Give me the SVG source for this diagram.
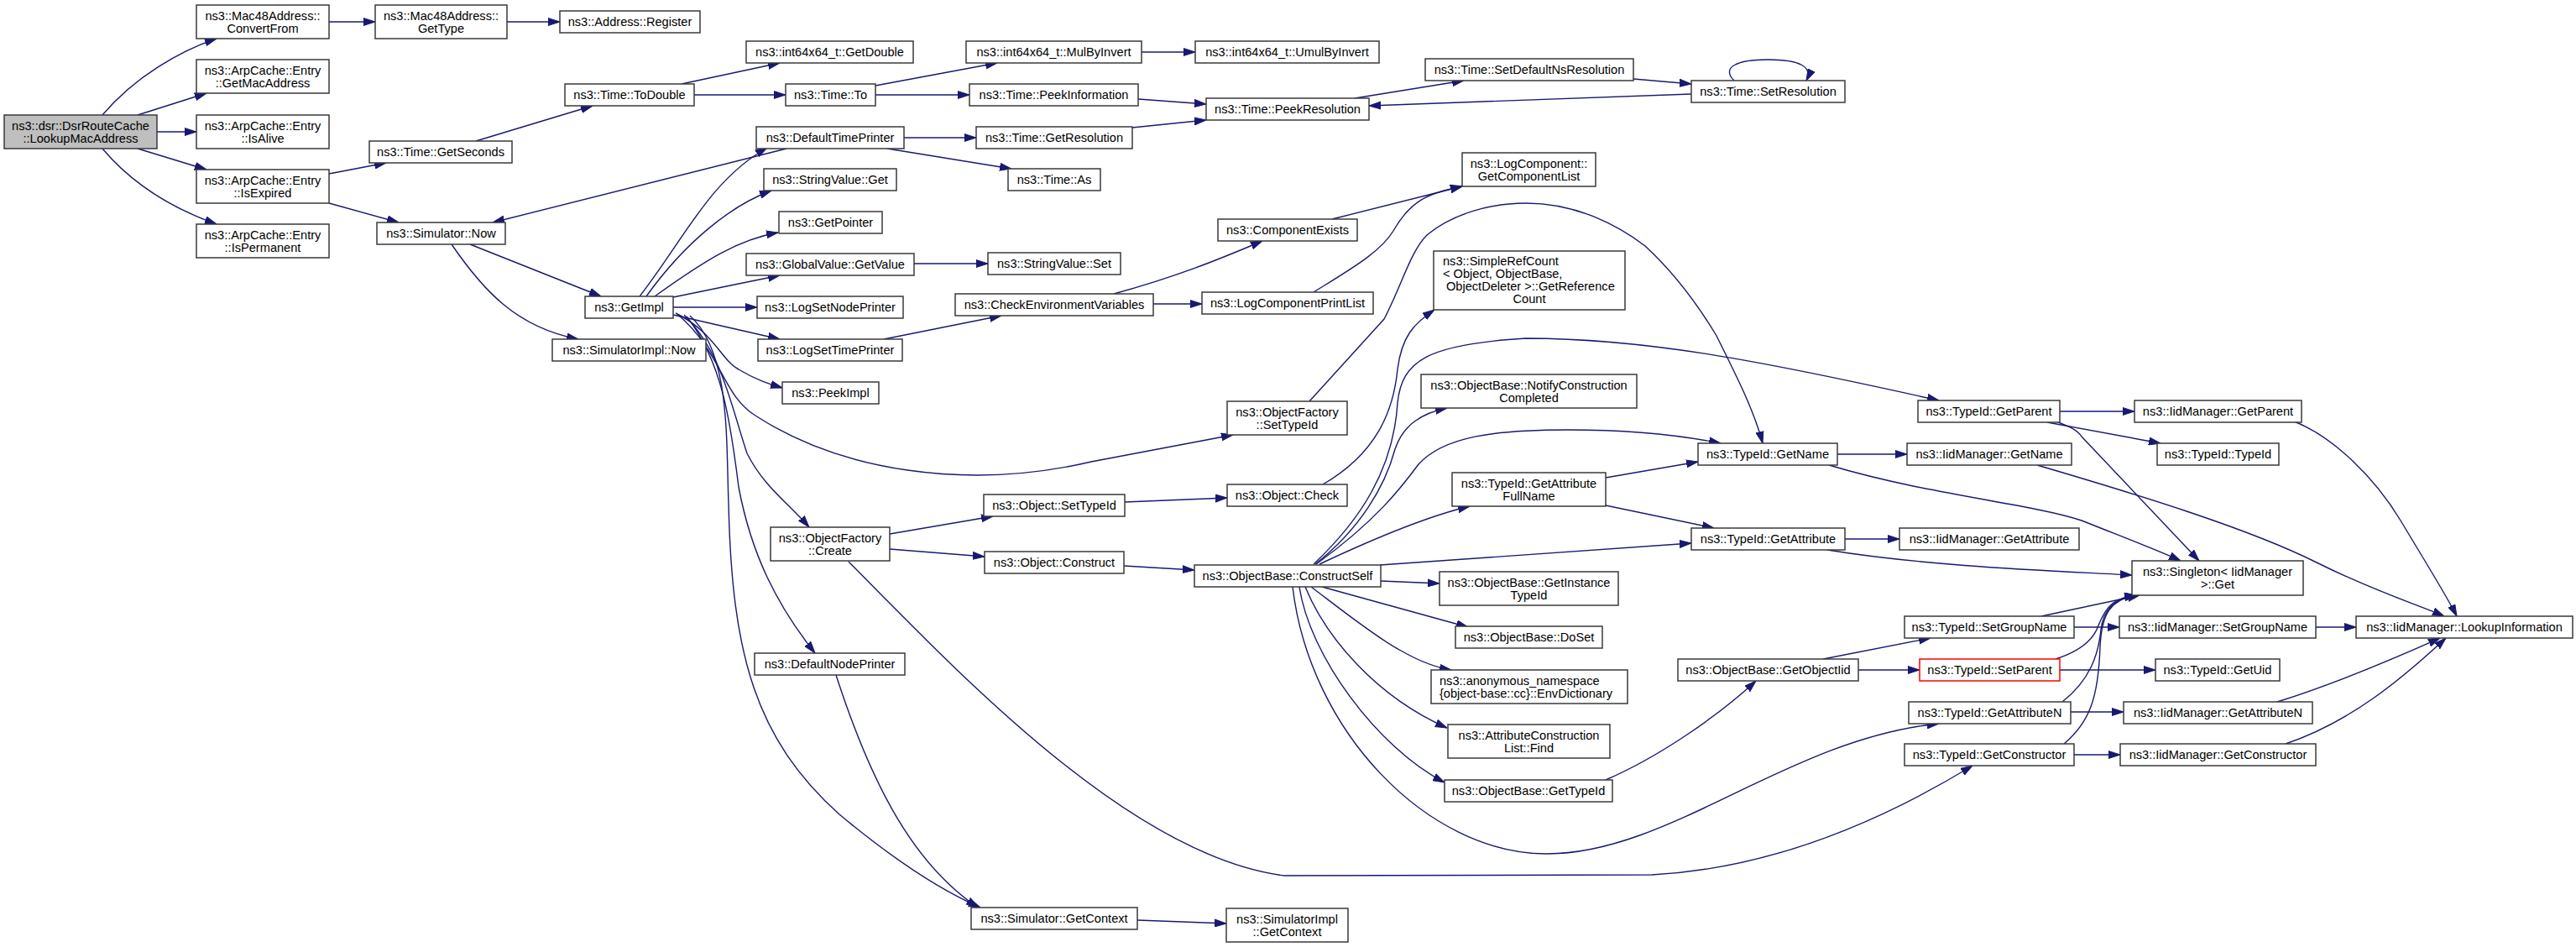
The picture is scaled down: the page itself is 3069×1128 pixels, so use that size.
<svg xmlns="http://www.w3.org/2000/svg" width="3069" height="1128" viewBox="0 0 3069 1128">
<style>
.node rect{fill:#ffffff;stroke:#3a3a3a;stroke-width:1.5}
.node text{font-family:"Liberation Sans",Arial,sans-serif;font-size:14.6px;fill:#000000;text-anchor:middle}
.node text.l{text-anchor:start}
#n_dsr rect{fill:#bfbfbf}
#n_setparent rect{stroke:#ff0000}
.edges path{fill:none;stroke:#191970;stroke-width:1.4;marker-end:url(#a)}
</style>
<defs>
<marker id="a" markerUnits="userSpaceOnUse" markerWidth="14" markerHeight="10" refX="14" refY="5" orient="auto" viewBox="0 0 14 10"><path d="M0,0.5 L14,5 L0,9.5 z" fill="#191970" stroke="#191970" stroke-width="1"/></marker>
</defs>
<rect x="0" y="0" width="3069" height="1128" fill="#ffffff"/>
<g class="edges">
<path d="M122,137 C160,92 215,60 258,46"/>
<path d="M164,137 L246,111"/>
<path d="M187,157 L234,157"/>
<path d="M164,177 L246,202"/>
<path d="M122,177 C160,222 210,250 258,267"/>
<path d="M392,26 L447,26"/>
<path d="M604,26 L667,26"/>
<path d="M392,207 L460,194"/>
<path d="M392,242 L475,265"/>
<path d="M567,168 L706,126"/>
<path d="M812,100 L929,75"/>
<path d="M827,113 L936,113"/>
<path d="M1043,102 L1188,75"/>
<path d="M1043,113 L1155,113"/>
<path d="M1360,62 L1424,62"/>
<path d="M1356,118 L1437,124"/>
<path d="M1349,152 L1437,143"/>
<path d="M1077,164 L1163,164"/>
<path d="M1057,177 L1205,201"/>
<path d="M937,177 L587,265"/>
<path d="M1614,117 L1744,96"/>
<path d="M1946,94 L2015,100"/>
<path d="M2015,112 L1631,126"/>
<path d="M2066,96 C2050,80 2070,71 2106,71 C2145,71 2160,80 2152,96"/>
<path d="M560,291 L716,353"/>
<path d="M538,291 C575,345 615,390 689,404"/>
<path d="M762,353 C815,285 845,215 914,176"/>
<path d="M770,353 C815,290 870,245 919,227"/>
<path d="M780,353 C840,310 880,285 927,277"/>
<path d="M802,354 L929,328"/>
<path d="M1089,314 L1177,314"/>
<path d="M802,366 L902,366"/>
<path d="M802,375 L929,404"/>
<path d="M1053,404 L1193,376"/>
<path d="M1327,350 C1400,330 1450,310 1504,287"/>
<path d="M1374,362 L1432,362"/>
<path d="M1587,261 L1742,222"/>
<path d="M1565,348 C1610,320 1645,300 1660,275 C1680,240 1700,230 1742,222"/>
<path d="M805,373 C850,395 860,430 880,440 C900,452 915,457 932,462"/>
<path d="M808,375 C860,420 860,470 900,495 C1000,560 1150,585 1300,550 C1380,535 1430,525 1469,518"/>
<path d="M815,375 C860,420 870,480 890,540 C910,580 940,600 964,628"/>
<path d="M818,377 C860,430 870,500 880,580 C895,660 925,720 971,778"/>
<path d="M822,376 C870,420 865,520 868,600 C872,780 900,880 1000,970 C1060,1020 1120,1060 1168,1081"/>
<path d="M996,804 C1040,940 1090,1030 1165,1081"/>
<path d="M1355,1096 L1461,1100"/>
<path d="M1060,636 L1183,615"/>
<path d="M1060,654 L1173,663"/>
<path d="M1011,669 C1150,810 1350,1020 1530,1043 L1968,1042 C2100,1035 2230,985 2350,912"/>
<path d="M1340,598 L1462,593"/>
<path d="M1339,674 L1423,679"/>
<path d="M1560,478 L1649,380 C1670,340 1680,300 1700,280 C1730,255 1775,242 1818,242 C1880,242 1930,270 1960,293 C2000,330 2030,375 2045,400 C2070,450 2090,490 2100,528"/>
<path d="M1576,577 C1640,540 1660,490 1665,440 C1670,400 1685,385 1709,369"/>
<path d="M1565,672 C1620,620 1660,560 1665,480 C1670,430 1700,410 1818,403 C1960,403 2100,430 2310,477"/>
<path d="M1567,672 C1620,630 1650,580 1662,535 C1672,505 1695,492 1724,486"/>
<path d="M1568,672 C1640,620 1670,580 1690,553 C1720,520 1780,512 1868,512 C1950,512 2010,520 2050,528"/>
<path d="M1572,672 C1640,640 1700,615 1751,603"/>
<path d="M1644,673 L2015,647"/>
<path d="M1645,692 L1715,695"/>
<path d="M1575,699 L1749,747"/>
<path d="M1562,699 C1590,720 1640,760 1669,775 C1690,787 1710,795 1729,798"/>
<path d="M1555,699 C1580,760 1640,830 1724,867"/>
<path d="M1548,699 C1560,780 1640,890 1721,932"/>
<path d="M1540,699 C1560,870 1700,1017 1843,1017 C1990,1017 2130,880 2310,862"/>
<path d="M1913,569 L2023,550"/>
<path d="M1913,602 L2042,629"/>
<path d="M2189,541 L2272,541"/>
<path d="M2179,554 C2300,590 2420,600 2480,620 C2530,640 2570,655 2598,668"/>
<path d="M2198,642 L2263,642"/>
<path d="M2177,655 C2300,675 2450,680 2540,685"/>
<path d="M2454,490 L2543,490"/>
<path d="M2439,503 L2574,528"/>
<path d="M2452,503 C2465,508 2475,512 2480,520 L2620,668"/>
<path d="M2733,502 C2780,520 2830,570 2860,620 C2890,670 2915,710 2927,734"/>
<path d="M2427,554 C2550,590 2680,630 2760,670 C2830,705 2880,720 2912,734"/>
<path d="M2432,734 L2549,709"/>
<path d="M2471,747 L2525,747"/>
<path d="M2759,747 L2807,747"/>
<path d="M2449,785 C2480,775 2495,760 2500,745 C2510,720 2520,712 2545,709"/>
<path d="M2454,798 L2568,798"/>
<path d="M2457,836 C2490,810 2500,780 2503,750 C2506,725 2520,712 2545,709"/>
<path d="M2467,848 L2530,848"/>
<path d="M2713,836 C2780,815 2840,790 2907,760"/>
<path d="M2459,886 C2490,860 2500,830 2502,770 C2504,730 2515,714 2545,709"/>
<path d="M2471,899 L2526,899"/>
<path d="M2723,886 C2800,860 2860,810 2914,760"/>
<path d="M2172,785 L2300,760"/>
<path d="M2214,798 L2287,798"/>
<path d="M1913,929 C1980,900 2050,850 2092,811"/>
</g>
<g id="n_dsr" class="node"><rect x="5" y="137" width="182" height="40"/><text x="96" y="155">ns3::dsr::DsrRouteCache</text><text x="96" y="169.5">::LookupMacAddress</text></g>
<g id="n_conv" class="node"><rect x="234" y="6" width="158" height="40"/><text x="313" y="24">ns3::Mac48Address::</text><text x="313" y="38.5">ConvertFrom</text></g>
<g id="n_getmac" class="node"><rect x="234" y="71" width="158" height="40"/><text x="313" y="89">ns3::ArpCache::Entry</text><text x="313" y="103.5">::GetMacAddress</text></g>
<g id="n_alive" class="node"><rect x="234" y="137" width="158" height="40"/><text x="313" y="155">ns3::ArpCache::Entry</text><text x="313" y="169.5">::IsAlive</text></g>
<g id="n_expired" class="node"><rect x="234" y="202" width="158" height="40"/><text x="313" y="220">ns3::ArpCache::Entry</text><text x="313" y="234.5">::IsExpired</text></g>
<g id="n_perm" class="node"><rect x="234" y="267" width="158" height="40"/><text x="313" y="285">ns3::ArpCache::Entry</text><text x="313" y="299.5">::IsPermanent</text></g>
<g id="n_gettype" class="node"><rect x="447" y="6" width="157" height="40"/><text x="525.5" y="24">ns3::Mac48Address::</text><text x="525.5" y="38.5">GetType</text></g>
<g id="n_getseconds" class="node"><rect x="440" y="168" width="170" height="26"/><text x="525" y="186">ns3::Time::GetSeconds</text></g>
<g id="n_simnow" class="node"><rect x="449" y="265" width="153" height="26"/><text x="525.5" y="283">ns3::Simulator::Now</text></g>
<g id="n_register" class="node"><rect x="667" y="13" width="167" height="26"/><text x="750.5" y="31">ns3::Address::Register</text></g>
<g id="n_todouble" class="node"><rect x="673" y="100" width="154" height="26"/><text x="750" y="118">ns3::Time::ToDouble</text></g>
<g id="n_getimpl" class="node"><rect x="697" y="353" width="105" height="26"/><text x="749.5" y="371">ns3::GetImpl</text></g>
<g id="n_simimplnow" class="node"><rect x="658" y="404" width="183" height="26"/><text x="749.5" y="422">ns3::SimulatorImpl::Now</text></g>
<g id="n_getdouble" class="node"><rect x="889" y="49" width="199" height="26"/><text x="988.5" y="67">ns3::int64x64_t::GetDouble</text></g>
<g id="n_timeto" class="node"><rect x="936" y="100" width="107" height="26"/><text x="989.5" y="118">ns3::Time::To</text></g>
<g id="n_dtp" class="node"><rect x="901" y="151" width="176" height="26"/><text x="989" y="169">ns3::DefaultTimePrinter</text></g>
<g id="n_svget" class="node"><rect x="910" y="201" width="158" height="26"/><text x="989" y="219">ns3::StringValue::Get</text></g>
<g id="n_getptr" class="node"><rect x="928" y="252" width="123" height="26"/><text x="989.5" y="270">ns3::GetPointer</text></g>
<g id="n_gvget" class="node"><rect x="889" y="302" width="200" height="26"/><text x="989" y="320">ns3::GlobalValue::GetValue</text></g>
<g id="n_lsnp" class="node"><rect x="902" y="353" width="174" height="26"/><text x="989" y="371">ns3::LogSetNodePrinter</text></g>
<g id="n_lstp" class="node"><rect x="903" y="404" width="172" height="26"/><text x="989" y="422">ns3::LogSetTimePrinter</text></g>
<g id="n_peekimpl" class="node"><rect x="932" y="455" width="115" height="26"/><text x="989.5" y="473">ns3::PeekImpl</text></g>
<g id="n_ofcreate" class="node"><rect x="918" y="628" width="142" height="40"/><text x="989" y="646">ns3::ObjectFactory</text><text x="989" y="660.5">::Create</text></g>
<g id="n_dnp" class="node"><rect x="899" y="778" width="179" height="26"/><text x="988.5" y="796">ns3::DefaultNodePrinter</text></g>
<g id="n_mulbyinv" class="node"><rect x="1151" y="49" width="209" height="26"/><text x="1255.5" y="67">ns3::int64x64_t::MulByInvert</text></g>
<g id="n_peekinfo" class="node"><rect x="1155" y="100" width="201" height="26"/><text x="1255.5" y="118">ns3::Time::PeekInformation</text></g>
<g id="n_getres" class="node"><rect x="1163" y="151" width="186" height="26"/><text x="1256" y="169">ns3::Time::GetResolution</text></g>
<g id="n_timeas" class="node"><rect x="1201" y="201" width="110" height="26"/><text x="1256" y="219">ns3::Time::As</text></g>
<g id="n_svset" class="node"><rect x="1177" y="301" width="158" height="26"/><text x="1256" y="319">ns3::StringValue::Set</text></g>
<g id="n_checkenv" class="node"><rect x="1138" y="350" width="236" height="26"/><text x="1256" y="368">ns3::CheckEnvironmentVariables</text></g>
<g id="n_objsettid" class="node"><rect x="1172" y="589" width="168" height="26"/><text x="1256" y="607">ns3::Object::SetTypeId</text></g>
<g id="n_objconstruct" class="node"><rect x="1173" y="657" width="166" height="26"/><text x="1256" y="675">ns3::Object::Construct</text></g>
<g id="n_simctx" class="node"><rect x="1157" y="1081" width="198" height="26"/><text x="1256" y="1099">ns3::Simulator::GetContext</text></g>
<g id="n_umul" class="node"><rect x="1424" y="49" width="219" height="26"/><text x="1533.5" y="67">ns3::int64x64_t::UmulByInvert</text></g>
<g id="n_peekres" class="node"><rect x="1437" y="117" width="194" height="26"/><text x="1534" y="135">ns3::Time::PeekResolution</text></g>
<g id="n_compexists" class="node"><rect x="1451" y="261" width="166" height="26"/><text x="1534" y="279">ns3::ComponentExists</text></g>
<g id="n_lcpl" class="node"><rect x="1432" y="348" width="204" height="26"/><text x="1534" y="366">ns3::LogComponentPrintList</text></g>
<g id="n_ofsettid" class="node"><rect x="1462" y="478" width="143" height="40"/><text x="1533.5" y="496">ns3::ObjectFactory</text><text x="1533.5" y="510.5">::SetTypeId</text></g>
<g id="n_objcheck" class="node"><rect x="1462" y="577" width="143" height="26"/><text x="1533.5" y="595">ns3::Object::Check</text></g>
<g id="n_constructself" class="node"><rect x="1423" y="673" width="222" height="26"/><text x="1534" y="691">ns3::ObjectBase::ConstructSelf</text></g>
<g id="n_simimplctx" class="node"><rect x="1461" y="1082" width="145" height="40"/><text x="1533.5" y="1100">ns3::SimulatorImpl</text><text x="1533.5" y="1114.5">::GetContext</text></g>
<g id="n_setdefns" class="node"><rect x="1698" y="70" width="248" height="26"/><text x="1822" y="88">ns3::Time::SetDefaultNsResolution</text></g>
<g id="n_getcomplist" class="node"><rect x="1742" y="182" width="159" height="40"/><text x="1821.5" y="200">ns3::LogComponent::</text><text x="1821.5" y="214.5">GetComponentList</text></g>
<g id="n_simpleref" class="node"><rect x="1708" y="299" width="228" height="70"/><text class="l" x="1719" y="316">ns3::SimpleRefCount</text><text class="l" x="1719" y="331">&lt; Object, ObjectBase,</text><text class="l" x="1723" y="346">ObjectDeleter &gt;::GetReference</text><text x="1822" y="360.5">Count</text></g>
<g id="n_notify" class="node"><rect x="1693" y="446" width="257" height="40"/><text x="1821.5" y="464">ns3::ObjectBase::NotifyConstruction</text><text x="1821.5" y="478.5">Completed</text></g>
<g id="n_getattrfull" class="node"><rect x="1730" y="563" width="183" height="40"/><text x="1821.5" y="581">ns3::TypeId::GetAttribute</text><text x="1821.5" y="595.5">FullName</text></g>
<g id="n_getinst" class="node"><rect x="1715" y="681" width="213" height="40"/><text x="1821.5" y="699">ns3::ObjectBase::GetInstance</text><text x="1821.5" y="713.5">TypeId</text></g>
<g id="n_doset" class="node"><rect x="1734" y="746" width="175" height="26"/><text x="1821.5" y="764">ns3::ObjectBase::DoSet</text></g>
<g id="n_envdict" class="node"><rect x="1705" y="798" width="234" height="40"/><text class="l" x="1715" y="816">ns3::anonymous_namespace</text><text class="l" x="1715" y="830.5">{object-base::cc}::EnvDictionary</text></g>
<g id="n_find" class="node"><rect x="1725" y="863" width="193" height="40"/><text x="1821.5" y="881">ns3::AttributeConstruction</text><text x="1821.5" y="895.5">List::Find</text></g>
<g id="n_obgettid" class="node"><rect x="1721" y="929" width="200" height="26"/><text x="1821" y="947">ns3::ObjectBase::GetTypeId</text></g>
<g id="n_setres" class="node"><rect x="2015" y="96" width="183" height="26"/><text x="2106.5" y="114">ns3::Time::SetResolution</text></g>
<g id="n_getname" class="node"><rect x="2023" y="528" width="166" height="26"/><text x="2106" y="546">ns3::TypeId::GetName</text></g>
<g id="n_getattr" class="node"><rect x="2015" y="629" width="183" height="26"/><text x="2106.5" y="647">ns3::TypeId::GetAttribute</text></g>
<g id="n_getobjiid" class="node"><rect x="1999" y="785" width="215" height="26"/><text x="2106.5" y="803">ns3::ObjectBase::GetObjectIid</text></g>
<g id="n_getparent" class="node"><rect x="2285" y="477" width="169" height="26"/><text x="2369.5" y="495">ns3::TypeId::GetParent</text></g>
<g id="n_iidgetname" class="node"><rect x="2272" y="528" width="196" height="26"/><text x="2370" y="546">ns3::IidManager::GetName</text></g>
<g id="n_iidgetattr" class="node"><rect x="2263" y="629" width="214" height="26"/><text x="2370" y="647">ns3::IidManager::GetAttribute</text></g>
<g id="n_setgroup" class="node"><rect x="2269" y="734" width="202" height="26"/><text x="2370" y="752">ns3::TypeId::SetGroupName</text></g>
<g id="n_setparent" class="node"><rect x="2287" y="785" width="167" height="26"/><text x="2370.5" y="803">ns3::TypeId::SetParent</text></g>
<g id="n_getattrn" class="node"><rect x="2274" y="836" width="193" height="26"/><text x="2370.5" y="854">ns3::TypeId::GetAttributeN</text></g>
<g id="n_getctor" class="node"><rect x="2269" y="886" width="202" height="26"/><text x="2370" y="904">ns3::TypeId::GetConstructor</text></g>
<g id="n_iidgetparent" class="node"><rect x="2543" y="477" width="199" height="26"/><text x="2642.5" y="495">ns3::IidManager::GetParent</text></g>
<g id="n_typeid" class="node"><rect x="2570" y="528" width="145" height="26"/><text x="2642.5" y="546">ns3::TypeId::TypeId</text></g>
<g id="n_singleton" class="node"><rect x="2540" y="668" width="204" height="41"/><text x="2642" y="686">ns3::Singleton&lt; IidManager</text><text x="2642" y="701">&gt;::Get</text></g>
<g id="n_iidsetgroup" class="node"><rect x="2525" y="734" width="234" height="26"/><text x="2642" y="752">ns3::IidManager::SetGroupName</text></g>
<g id="n_getuid" class="node"><rect x="2568" y="785" width="148" height="26"/><text x="2642" y="803">ns3::TypeId::GetUid</text></g>
<g id="n_iidgetattrn" class="node"><rect x="2530" y="836" width="225" height="26"/><text x="2642.5" y="854">ns3::IidManager::GetAttributeN</text></g>
<g id="n_iidgetctor" class="node"><rect x="2526" y="886" width="233" height="26"/><text x="2642.5" y="904">ns3::IidManager::GetConstructor</text></g>
<g id="n_lookup" class="node"><rect x="2807" y="734" width="258" height="26"/><text x="2936" y="752">ns3::IidManager::LookupInformation</text></g>
</svg>
